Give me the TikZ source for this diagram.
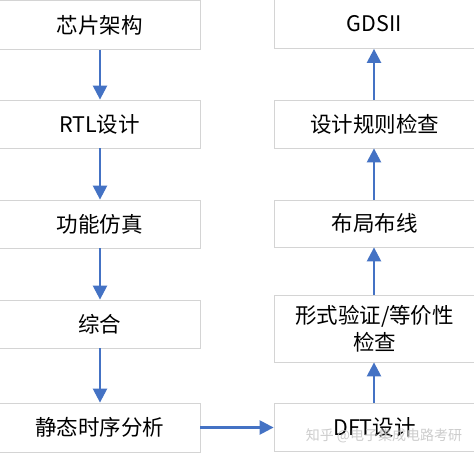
\documentclass[tikz,border=0pt]{standalone}
\usepackage{fontspec}
\setmainfont{Noto Sans CJK SC}
\usetikzlibrary{arrows.meta}
\definecolor{arrowblue}{HTML}{4472C4}
\definecolor{boxgray}{HTML}{D4D4D4}
\definecolor{wmgray}{HTML}{C4C4C4}
\tikzset{
  stepbox/.style={draw=boxgray, line width=0.8pt, fill=white, rectangle,
    minimum width=201pt, inner sep=0pt, font=\fontsize{21.5}{27}\selectfont,
    align=center, text=black},
  flow/.style={draw=arrowblue, line width=2.4pt,
    -{Triangle[width=14pt,length=14pt]}},
}
\begin{document}
\begin{tikzpicture}[x=1pt,y=-1pt]
\useasboundingbox (0,0) rectangle (474,455);
\fill[white] (0,0) rectangle (474,455);
% left column
\node[stepbox, minimum height=49pt] (a) at (99.5,25) {芯片架构};
\node[stepbox, minimum height=48pt] (b) at (99.5,124) {RTL设计};
\node[stepbox, minimum height=48pt] (c) at (99.5,224) {功能仿真};
\node[stepbox, minimum height=48pt] (d) at (99.5,324) {综合};
\node[stepbox, minimum height=49pt] (e) at (99.5,427.5) {静态时序分析};
% right column
\node[stepbox, minimum height=48pt] (f) at (374.5,427) {DFT设计};
\node[stepbox, minimum height=67pt] (g) at (374.5,328.5) {形式验证/等价性\\检查};
\node[stepbox, minimum height=47pt] (h) at (374.5,223.5) {布局布线};
\node[stepbox, minimum height=48pt] (i) at (374.5,124) {设计规则检查};
\node[stepbox, minimum height=49pt] (j) at (374.5,24) {GDSII};
% watermark
\node[text=wmgray, opacity=0.85, font=\fontsize{14}{16}\selectfont, inner sep=0pt] (wm) at (384,436) {知乎 @电子集成电路考研};
% connectors
\draw[flow] ([xshift=0.5pt]a.south) -- ([xshift=0.5pt]b.north);
\draw[flow] ([xshift=0.5pt]b.south) -- ([xshift=0.5pt]c.north);
\draw[flow] ([xshift=0.5pt]c.south) -- ([xshift=0.5pt]d.north);
\draw[flow] ([xshift=0.5pt]d.south) -- ([xshift=0.5pt]e.north);
\draw[flow] (e.east) -- (f.west |- e.east);
\draw[flow] ([xshift=-0.5pt]f.north) -- ([xshift=-0.5pt]g.south);
\draw[flow] ([xshift=-0.5pt]g.north) -- ([xshift=-0.5pt]h.south);
\draw[flow] ([xshift=-0.5pt]h.north) -- ([xshift=-0.5pt]i.south);
\draw[flow] ([xshift=-0.5pt]i.north) -- ([xshift=-0.5pt]j.south);
\end{tikzpicture}
\end{document}
